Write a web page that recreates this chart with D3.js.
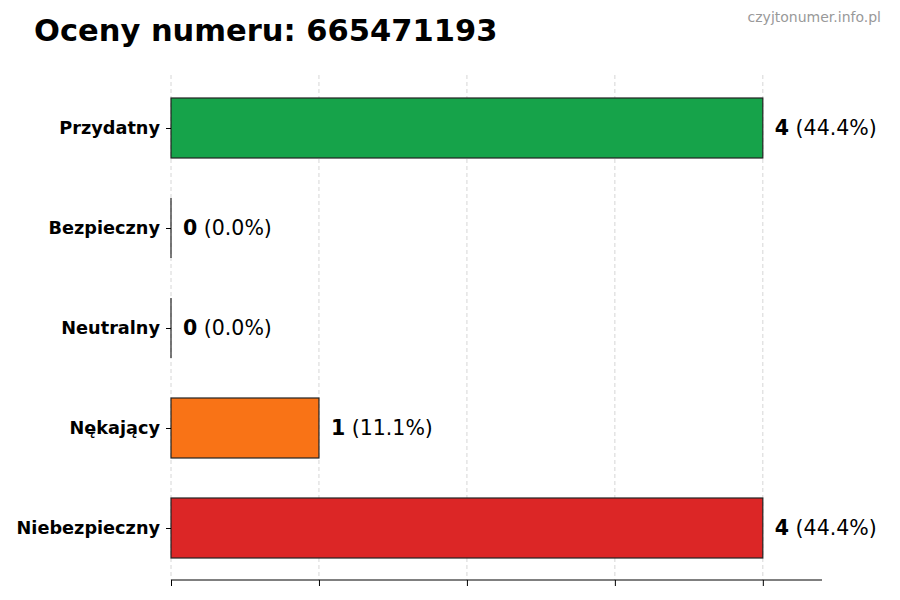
<!DOCTYPE html>
<html>
<head>
<meta charset="utf-8">
<script src="https://cdn.jsdelivr.net/npm/d3@7"></script>
<style>
  body { margin: 0; background: #fff; }
  text { font-family: "DejaVu Sans", sans-serif; }
</style>
</head>
<body>
<div id="chart"></div>
<script>
const categories = ["Przydatny", "Bezpieczny", "Neutralny", "Nękający", "Niebezpieczny"];
const counts = [4, 0, 0, 1, 4];
const percents = ["44.4%", "0.0%", "0.0%", "11.1%", "44.4%"];
const colors = ["#16a34a", "#9ca3af", "#6b7280", "#f97316", "#dc2626"];
const xTicks = [0, 1, 2, 3, 4];

const width = 900, height = 600;
const svg = d3.select("#chart").append("svg")
    .attr("width", width).attr("height", height);

const x = d3.scaleLinear().domain([0, 4.4]).range([171, 822]);
const y = d3.scalePoint().domain(categories).range([78, 578]).padding(0.5);
const barH = y.step() * 0.6;

// siatka
svg.append("g")
  .selectAll("line")
  .data(xTicks)
  .join("line")
    .attr("x1", d => x(d)).attr("x2", d => x(d))
    .attr("y1", 75).attr("y2", 580)
    .attr("stroke", "#cccccc")
    .attr("stroke-width", 0.8)
    .attr("stroke-dasharray", "4,3");

// słupki
svg.append("g")
  .selectAll("rect")
  .data(categories)
  .join("rect")
    .attr("x", x(0))
    .attr("y", d => y(d) - barH / 2)
    .attr("width", (d, i) => x(counts[i]) - x(0))
    .attr("height", barH)
    .attr("fill", (d, i) => colors[i])
    .attr("stroke", "#222")
    .attr("stroke-width", 1.2);

// krawędź słupków o wartości 0
svg.append("g")
  .selectAll("line")
  .data(categories.filter((d, i) => counts[i] === 0))
  .join("line")
    .attr("x1", x(0)).attr("x2", x(0))
    .attr("y1", d => y(d) - barH / 2)
    .attr("y2", d => y(d) + barH / 2)
    .attr("stroke", "#222")
    .attr("stroke-width", 1.2);

// oś x (bez etykiet)
const xAxis = svg.append("g")
    .attr("transform", "translate(0,580)")
    .call(d3.axisBottom(x).tickValues(xTicks).tickFormat("").tickSize(6).tickSizeOuter(0));
xAxis.select(".domain").attr("stroke", "#000").attr("d", `M${x(0)},0H822`);
xAxis.selectAll(".tick line").attr("stroke", "#000");

// oś y
const yAxis = svg.append("g")
    .attr("transform", `translate(${x(0)},0)`)
    .call(d3.axisLeft(y).tickSize(5).tickPadding(6));
yAxis.select(".domain").remove();
yAxis.selectAll(".tick line").attr("stroke", "#000");
yAxis.selectAll(".tick text")
    .attr("font-size", "17.7px")
    .attr("font-weight", "bold")
    .attr("fill", "#000")
    .style("font-family", '"DejaVu Sans", sans-serif');

// etykiety wartości
const labels = svg.append("g")
  .selectAll("text")
  .data(categories)
  .join("text")
    .attr("x", (d, i) => x(counts[i]) + 12)
    .attr("y", d => y(d))
    .attr("dy", "0.35em")
    .attr("font-size", "20.5px")
    .attr("fill", "#000");
labels.append("tspan").attr("font-weight", "bold").text((d, i) => counts[i]);
labels.append("tspan").text((d, i) => ` (${percents[i]})`);

// tytuł
svg.append("text")
    .attr("x", 34).attr("y", 41)
    .attr("font-size", "30.5px")
    .attr("font-weight", "bold")
    .attr("fill", "#000")
    .text("Oceny numeru: 665471193");

svg.append("text")
    .attr("x", 881).attr("y", 22)
    .attr("text-anchor", "end")
    .attr("font-size", "14px")
    .attr("fill", "#999")
    .text("czyjtonumer.info.pl");
</script>
</body>
</html>
